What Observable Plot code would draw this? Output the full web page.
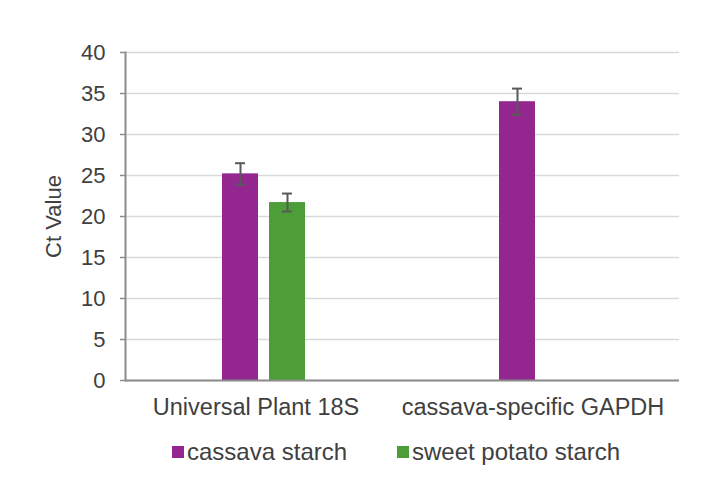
<!DOCTYPE html>
<html>
<head>
<meta charset="utf-8">
<script src="https://cdn.jsdelivr.net/npm/d3@7"></script>
<script src="https://cdn.jsdelivr.net/npm/@observablehq/plot@0.6"></script>
<style>
  body { margin: 0; background: #fff; font-family: "Liberation Sans", Arial, sans-serif; }
  #wrap { position: relative; width: 703px; height: 480px; overflow: hidden; }
  .legend { position: absolute; top: 438px; left: 0; width: 703px; height: 30px; font-size: 24px; color: #404040; }
  .item { position: absolute; top: 0; display: flex; align-items: center; gap: 3px; white-space: nowrap; }
  .sw { width: 12px; height: 12px; display: inline-block; }
</style>
</head>
<body>
<div id="wrap"></div>
<script>
// ---- data ----
const genes = ["Universal Plant 18S", "cassava-specific GAPDH"];
const series = ["cassava starch", "sweet potato starch"];
const colors = ["#93278F", "#4D9E39"];
const cassavaCt = [25.2, 34.0];
const cassavaErr = [1.3, 1.6];
const sweetCt = [21.7, null];
const sweetErr = [1.1, null];
const yTicks = [0, 5, 10, 15, 20, 25, 30, 35, 40];

const rows = [];
genes.forEach((g, i) => {
  if (cassavaCt[i] != null) rows.push({gene: g, series: series[0], ct: cassavaCt[i], err: cassavaErr[i]});
  if (sweetCt[i] != null) rows.push({gene: g, series: series[1], ct: sweetCt[i], err: sweetErr[i]});
});

const axisGray = "#8c8c8c";
const errGray = "#595959";

const plot = Plot.plot({
  width: 703,
  height: 430,
  marginLeft: 125,
  marginRight: 24,
  marginTop: 52,
  marginBottom: 50,
  style: {fontFamily: "'Liberation Sans', Arial, sans-serif", fontSize: "22px", color: "#404040", background: "#fff"},
  fx: {domain: genes, padding: 0, axis: null},
  x: {domain: series, paddingInner: 0.229, paddingOuter: 2, axis: null},
  y: {domain: [0, 40], axis: null},
  color: {domain: series, range: colors},
  marks: [
    Plot.gridY(yTicks, {stroke: "#d9d9d9", strokeOpacity: 1, strokeWidth: 1.5}),
    Plot.barY(rows, {fx: "gene", x: "series", y: "ct", fill: "series"}),
    Plot.ruleX(rows, {fx: "gene", x: "series", y1: d => d.ct - d.err, y2: d => d.ct + d.err, stroke: errGray, strokeWidth: 2}),
    Plot.tickY(rows, {fx: "gene", x: "series", y: d => d.ct + d.err, insetLeft: 13, insetRight: 13, stroke: errGray, strokeWidth: 2}),
    Plot.tickY(rows, {fx: "gene", x: "series", y: d => d.ct - d.err, insetLeft: 13, insetRight: 13, stroke: errGray, strokeWidth: 2}),
    Plot.ruleY([0], {stroke: axisGray, strokeWidth: 2}),
    Plot.frame({anchor: "left", stroke: axisGray, strokeWidth: 2, facetAnchor: "left"}),
    Plot.axisY({ticks: yTicks, tickSize: 5, tickPadding: 15, stroke: axisGray, strokeWidth: 1.5, fontSize: 22,
      label: "Ct Value", labelAnchor: "center", labelArrow: "none", labelOffset: 80}),
    Plot.axisFx({anchor: "bottom", tickSize: 0, tickPadding: 18, label: null, fontSize: 23.5, dx: -8})
  ]
});

const wrap = document.getElementById("wrap");
wrap.appendChild(plot);

// legend below the chart
const legend = document.createElement("div");
legend.className = "legend";
const legendLeft = [172, 397];
series.forEach((s, i) => {
  const item = document.createElement("div");
  item.className = "item";
  item.style.left = legendLeft[i] + "px";
  const sw = document.createElement("span");
  sw.className = "sw";
  sw.style.background = colors[i];
  const t = document.createElement("span");
  t.textContent = s;
  item.appendChild(sw);
  item.appendChild(t);
  legend.appendChild(item);
});
wrap.appendChild(legend);
</script>
</body>
</html>
